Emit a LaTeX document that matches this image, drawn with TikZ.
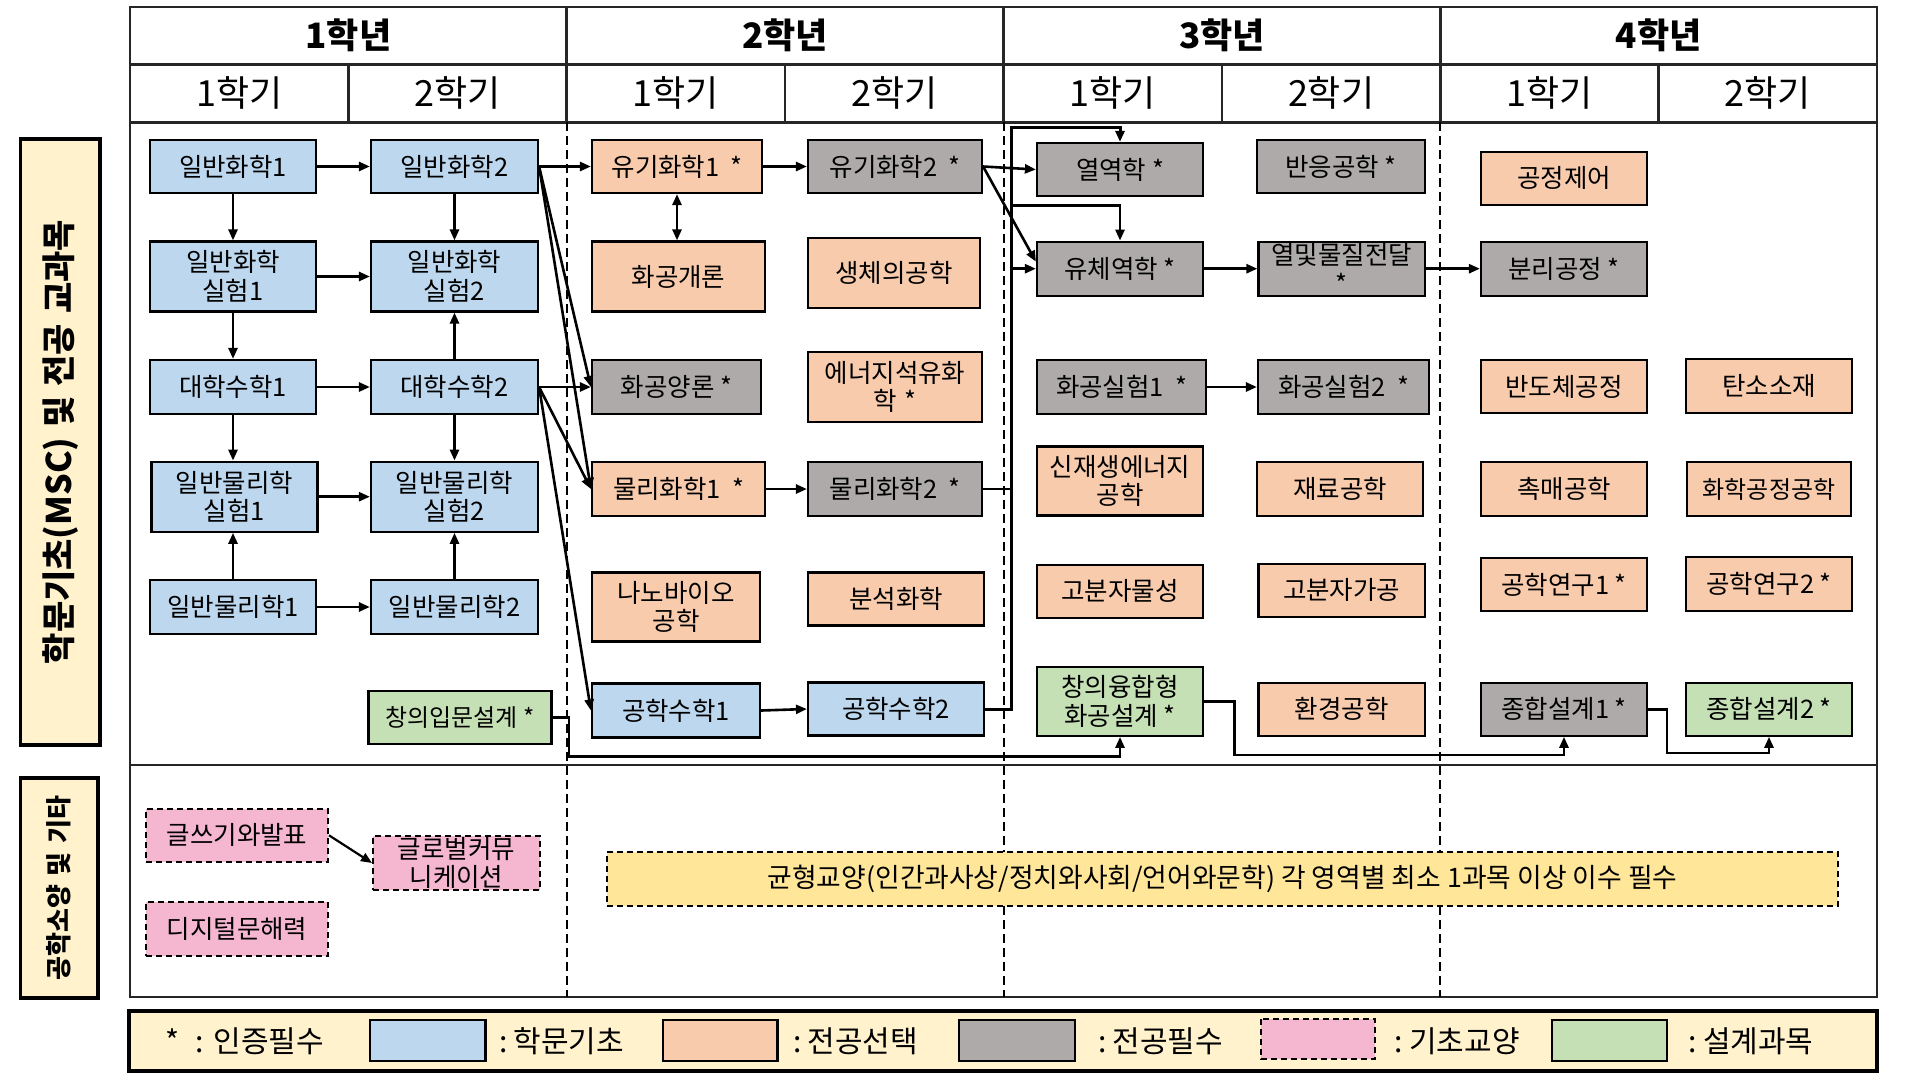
\documentclass[tikz,border=0pt]{standalone}
\usepackage{fontspec}
\setmainfont{Noto Sans CJK KR}
\usetikzlibrary{arrows.meta}
\definecolor{cblue}{HTML}{BDD7EE}
\definecolor{corange}{HTML}{F8CBAD}
\definecolor{cgray}{HTML}{AEAAAA}
\definecolor{cgreen}{HTML}{C5E0B4}
\definecolor{cpink}{HTML}{F5B6CF}
\definecolor{clight}{HTML}{FFF2CC}
\definecolor{cgold}{HTML}{FFE699}
\definecolor{tline}{HTML}{262626}
\tikzset{
  course/.style={draw=black, line width=2.2pt, align=center, inner sep=1pt,
    font=\fontsize{25.5}{28.5}\selectfont},
  cblu/.style={course, fill=cblue},
  corg/.style={course, fill=corange},
  cgry/.style={course, fill=cgray},
  cgrn/.style={course, fill=cgreen},
  cpnk/.style={course, fill=cpink, dash pattern=on 6pt off 4pt, line width=2pt},
  arr/.style={line width=2.6pt, -{Triangle[length=11pt,width=9pt]}},
  darr/.style={line width=2.6pt, {Triangle[length=11pt,width=9pt]}-{Triangle[length=11pt,width=9pt]}},
  ln/.style={line width=2.6pt},
  yearhd/.style={font=\fontsize{35}{40}\selectfont\bfseries},
  semhd/.style={font=\fontsize{36}{40}\selectfont},
  divline/.style={draw=tline, line width=2.6pt},
  dashdiv/.style={draw=black, line width=2pt, dash pattern=on 9pt off 5pt},
  legtxt/.style={anchor=west, font=\fontsize{30}{32}\selectfont, inner sep=0pt},
}
\newcommand\crs[7]{\node[#1, minimum width=#5pt, minimum height=#6pt] (#2) at (#3,#4) {#7};}
\begin{document}
\begin{tikzpicture}[x=1pt,y=-1pt]
\useasboundingbox (0,0) rectangle (1910,1079);
\fill[white] (0,0) rectangle (1910,1079);

% ---- table frame ----
\draw[divline] (130,7) rectangle (1877,997);
\draw[divline] (130,64.3) -- (1877,64.3);
\draw[divline] (130,122.3) -- (1877,122.3);
\draw[divline] (130,765) -- (1877,765);
\foreach \x in {566.75,1003.5,1440.25} \draw[divline] (\x,7) -- (\x,122.3);
\foreach \x in {348.4,785.1,1221.9,1658.6} \draw[divline] (\x,64.3) -- (\x,122.3);
\foreach \x in {566.75,1003.5,1440.25} \draw[dashdiv] (\x,122.3) -- (\x,997);

% ---- headers ----
\node[yearhd] (y1) at (348.4,35.5) {1학년};
\node[yearhd] (y2) at (785.1,35.5) {2학년};
\node[yearhd] (y3) at (1221.9,35.5) {3학년};
\node[yearhd] (y4) at (1658.6,35.5) {4학년};
\node[semhd] (s11) at (239.2,93) {1학기};
\node[semhd] (s12) at (457.6,93) {2학기};
\node[semhd] (s21) at (675.9,93) {1학기};
\node[semhd] (s22) at (894.3,93) {2학기};
\node[semhd] (s31) at (1112.7,93) {1학기};
\node[semhd] (s32) at (1331.1,93) {2학기};
\node[semhd] (s41) at (1549.4,93) {1학기};
\node[semhd] (s42) at (1767.8,93) {2학기};

% ---- left labels ----
\draw[fill=clight, line width=3.5pt] (20.4,139) rectangle (100,745);
\node[rotate=90, font=\fontsize{34}{38}\selectfont\bfseries] (lab1txt) at (60.2,442) {학문기초(MSC)\hspace{10pt}및\hspace{10pt}전공\hspace{10pt}교과목};
\draw[fill=clight, line width=3.5pt] (20.4,778) rectangle (98,998);
\node[rotate=90, font=\fontsize{26}{30}\selectfont\bfseries] (lab2txt) at (59.2,888) {공학소양\hspace{9pt}및\hspace{9pt}기타};

% ---- courses ----
\crs{cblu}{gc1}{233}{166.5}{166}{53}{일반화학1}
\crs{cblu}{gcl1}{233}{276.5}{166}{70}{일반화학\\실험1}
\crs{cblu}{um1}{233}{387}{166}{54}{대학수학1}
\crs{cblu}{gpl1}{234.5}{496.7}{166}{70}{일반물리학\\실험1}
\crs{cblu}{gp1}{233}{607}{166}{54}{일반물리학1}

\crs{cblu}{gc2}{454.5}{166.5}{167}{53}{일반화학2}
\crs{cblu}{gcl2}{454.5}{276.5}{167}{70}{일반화학\\실험2}
\crs{cblu}{um2}{454.5}{387}{167}{54}{대학수학2}
\crs{cblu}{gpl2}{454.5}{496.7}{167}{70}{일반물리학\\실험2}
\crs{cblu}{gp2}{454.5}{607}{167}{54}{일반물리학2}
\crs{cgrn}{cid}{460}{717.5}{183}{53}{\fontsize{24}{28}\selectfont 창의입문설계 *}

\crs{corg}{org1}{677}{166.5}{170}{53}{유기화학1\hspace{11pt}*}
\crs{corg}{intro}{678.5}{276.5}{173}{70}{화공개론}
\crs{cgry}{hy}{676.5}{387}{169}{54}{화공양론 *}
\crs{corg}{pc1}{678.5}{489}{173}{54}{물리화학1\hspace{11pt}*}
\crs{corg}{nano}{676}{607}{168}{69}{나노바이오\\공학}
\crs{cblu}{em1}{676}{710.5}{168}{54}{공학수학1}

\crs{cgry}{org2}{895}{166.5}{174}{53}{유기화학2\hspace{11pt}*}
\crs{corg}{bio}{894}{273}{172}{70}{생체의공학}
\crs{corg}{ener}{895}{386.7}{174}{70}{에너지석유화\\학\hspace{8pt}*}
\crs{cgry}{pc2}{895}{489}{174}{54}{물리화학2\hspace{11pt}*}
\crs{corg}{anal}{896}{599}{176}{53}{분석화학}
\crs{cblu}{em2}{896}{709}{176}{53}{공학수학2}

\crs{cgry}{thermo}{1120}{169.5}{166}{53}{열역학 *}
\crs{cgry}{fluid}{1120}{268.7}{166}{54}{유체역학 *}
\crs{cgry}{lab1}{1121.5}{387}{169}{54}{화공실험1\hspace{11pt}*}
\crs{corg}{renew}{1120}{481}{166}{69}{신재생에너지\\공학}
\crs{corg}{polyp}{1120}{591.3}{166}{53}{고분자물성}
\crs{cgrn}{ccd}{1120}{701.3}{166}{69}{창의융합형\\화공설계 *}

\crs{cgry}{react}{1341}{166.5}{168}{53}{반응공학 *}
\crs{cgry}{hmt}{1341.7}{268.7}{166.5}{54}{열및물질전달\\*}
\crs{cgry}{lab2}{1343.5}{387}{171}{54}{화공실험2\hspace{11pt}*}
\crs{corg}{mat}{1340}{489}{166}{54}{재료공학}
\crs{corg}{polyproc}{1341.7}{590.2}{166.5}{53}{고분자가공}
\crs{corg}{env}{1341.7}{709.2}{166.5}{53}{환경공학}

\crs{corg}{ctrl}{1564}{178.3}{166}{53}{공정제어}
\crs{cgry}{sep}{1564}{268.7}{166}{54}{분리공정 *}
\crs{corg}{semi}{1564}{386.5}{166}{53}{반도체공정}
\crs{corg}{cat}{1564}{489}{166}{54}{촉매공학}
\crs{corg}{res1}{1564}{584.5}{166}{53}{공학연구1 *}
\crs{cgry}{cd1}{1564}{709.2}{166}{53}{종합설계1 *}

\crs{corg}{carbon}{1769}{386}{166}{54}{탄소소재}
\crs{corg}{cpe}{1769}{489}{164}{54}{\fontsize{24}{28}\selectfont 화학공정공학}
\crs{corg}{res2}{1769}{584}{166}{54}{공학연구2 *}
\crs{cgrn}{cd2}{1769}{709.2}{166}{53}{종합설계2 *}

\crs{cpnk}{wr}{237}{835.3}{182}{53}{글쓰기와발표}
\crs{cpnk}{gl}{456.5}{863}{167}{54}{글로벌커뮤\\니케이션}
\crs{cpnk}{dl}{237}{929}{182}{54}{디지털문해력}
\node[course, fill=cgold, dash pattern=on 6pt off 4pt, line width=2pt, minimum width=1231pt, minimum height=54pt, font=\fontsize{26.8}{30}\selectfont] (gen) at (1222.5,879) {균형교양(인간과사상/정치와사회/언어와문학) 각 영역별 최소 1과목 이상 이수 필수};

% ---- connectors, year 1 ----
\draw[arr] (gc1.east) -- (gc2.west);
\draw[arr] (gc1.south) -- (gcl1.north);
\draw[arr] (gc2.south) -- (gcl2.north);
\draw[arr] (gcl1.east) -- (gcl2.west);
\draw[arr] (gcl1.south) -- (um1.north);
\draw[arr] (um2.north) -- (gcl2.south);
\draw[arr] (um1.east) -- (um2.west);
\draw[arr] (um1.south) -- (gpl1.north -| um1.south);
\draw[arr] (um2.south) -- (gpl2.north);
\draw[arr] (gpl1.east) -- (gpl2.west);
\draw[arr] (gp1.north) -- (gpl1.south -| gp1.north);
\draw[arr] (gp2.north) -- (gpl2.south);
\draw[arr] (gp1.east) -- (gp2.west);

% ---- year 1 -> year 2 ----
\draw[arr] (gc2.east) -- (org1.west);
\draw[arr] (gc2.east) -- (hy.west);
\draw[arr] (gc2.east) -- (pc1.west);
\draw[arr] (um2.east) -- (hy.west);
\draw[arr] (um2.east) -- (pc1.west);
\draw[arr] (um2.east) -- (em1.west);

% ---- year 2 ----
\draw[darr] (org1.south) -- (intro.north -| org1.south);
\draw[arr] (org1.east) -- (org2.west);
\draw[arr] (pc1.east) -- (pc2.west);
\draw[arr] (em1.east) -- (em2.west);

% ---- year 2 -> year 3 ----
\coordinate (bt) at (1011,127.7);
\coordinate (bm) at (1011,205.7);
\draw[arr] (org2.east) -- (thermo.west);
\draw[arr] (org2.east) -- ([yshift=7pt]fluid.west);
\draw[arr, line width=3pt] (em2.east) -| (bt) -| (thermo.north);
\draw[arr] (bm) -| (fluid.north);
\draw[arr] (bt |- fluid.west) -- (fluid.west);
\draw[ln] (pc2.east) -- (bt |- pc2.east);

% ---- year 3 / 4 ----
\draw[arr] (fluid.east) -- (hmt.west);
\draw[arr] (hmt.east) -- (sep.west);
\draw[arr] (lab1.east) -- (lab2.west);

% ---- design routes ----
\coordinate (r1) at (569,756.7);
\coordinate (r2) at (1234.5,755);
\coordinate (r3) at (1667,753);
\draw[arr] (cid.east) -| (r1) -| (ccd.south);
\draw[arr] (ccd.east) -| (r2) -| (cd1.south);
\draw[arr] (cd1.east) -| (r3) -| (cd2.south);

% ---- liberal arts ----
\draw[arr, line width=2.2pt] (wr.east) -- (gl.west);

% ---- legend ----
\draw[fill=clight, line width=4pt] (128.6,1011) rectangle (1877,1071);
\node[legtxt] (lg0) at (165,1041) {*\hspace{16pt}:\hspace{10pt}인증필수};
\draw[fill=cblue, line width=2.2pt] (370,1020) rectangle (485.5,1061);
\node[legtxt] (lg1) at (499,1041) {:\hspace{6pt}학문기초};
\draw[fill=corange, line width=2.2pt] (663,1020) rectangle (777.5,1061);
\node[legtxt] (lg2) at (793,1041) {:\hspace{6pt}전공선택};
\draw[fill=cgray, line width=2.2pt] (958.6,1020) rectangle (1075,1061);
\node[legtxt] (lg3) at (1098,1041) {:\hspace{6pt}전공필수};
\draw[fill=cpink, line width=2pt, dash pattern=on 6pt off 4pt] (1261,1019) rectangle (1375,1059);
\node[legtxt] (lg4) at (1394.7,1041) {:\hspace{6pt}기초교양};
\draw[fill=cgreen, line width=2.2pt] (1552,1020) rectangle (1667,1061);
\node[legtxt] (lg5) at (1688.5,1041) {:\hspace{6pt}설계과목};
\end{tikzpicture}
\end{document}
